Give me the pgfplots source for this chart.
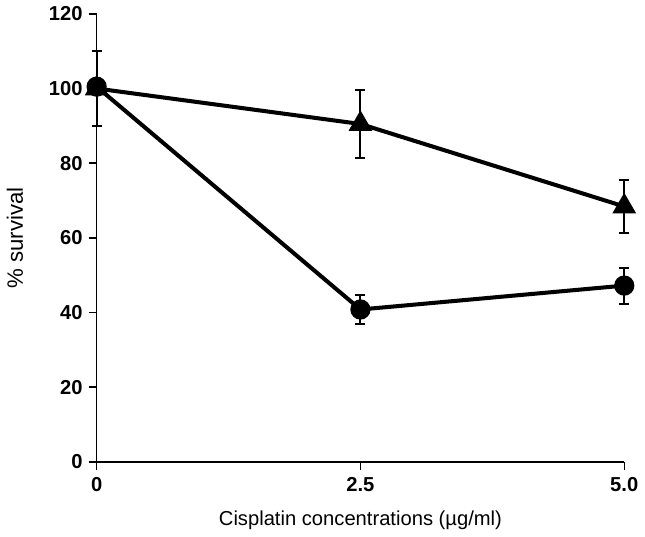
\documentclass[border=0pt]{standalone}
\usepackage{pgfplots}
\pgfplotsset{compat=1.18}
\usepackage{fontspec}
\setmainfont{Liberation Sans}
\begin{document}
\begin{tikzpicture}
\begin{axis}[
scale only axis, width=261.5pt, height=222pt,
axis lines=left, axis line style={-, line width=0.75pt},
xmin=0, xmax=5, ymin=0, ymax=120,
xtick={0,2.5,5}, xticklabels={0,2.5,5.0},
ytick={0,20,...,120},
tick align=outside, major tick length=4pt,
tick style={line width=0.75pt, black},
tick label style={font=\fontsize{10}{12}\selectfont\bfseries},
yticklabel style={xshift=0.6pt},
/pgf/number format/assume math mode=true,
xlabel={Cisplatin concentrations (µg/ml)},
ylabel={\% survival},
xlabel style={font=\fontsize{10}{12}\selectfont, yshift=-3pt},
ylabel style={font=\fontsize{11}{13}\selectfont, yshift=6pt},
clip=false,
]
\addplot[black, line width=2pt, mark=triangle*, mark size=4.8pt,
  error bars/.cd, y dir=both, y explicit,
  error bar style={line width=1pt, solid},
  error mark options={rotate=90, mark size=2.5pt, line width=1pt}]
  coordinates {(0,100) +- (0,10) (2.5,90.5) +- (0,9.2) (5,68.4) +- (0,7)};
\addplot[black, line width=2pt, mark=*, mark size=4pt,
  error bars/.cd, y dir=both, y explicit,
  error bar style={line width=1pt, solid},
  error mark options={rotate=90, mark size=2.5pt, line width=1pt}]
  coordinates {(0,100.5) +- (0,0) (2.5,40.8) +- (0,4) (5,47.2) +- (0,4.8)};
\end{axis}
\end{tikzpicture}
\end{document}
